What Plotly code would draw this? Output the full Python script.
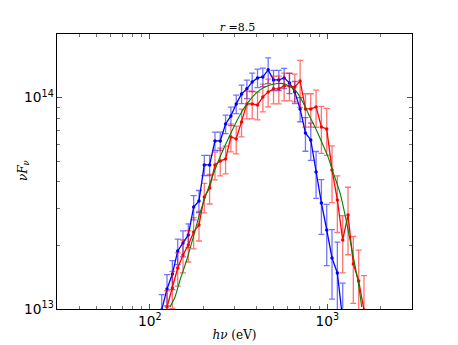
import plotly.graph_objects as go

# Photon energies (eV) of the binned spectrum
energy = [116.7, 125.0, 134.0, 143.6, 153.8, 164.8, 176.6, 189.2, 202.7, 217.2,
          232.8, 249.4, 267.2, 286.3, 306.8, 328.7, 352.2, 377.4, 404.4, 433.3,
          464.3, 497.5, 533.1, 571.2, 612.0, 655.8, 702.7, 752.9, 806.7, 864.4,
          926.2, 992.4, 1063, 1139, 1221, 1308, 1401, 1502, 1609]

# Blue spectrum (nuF_nu in units of 1e13), energies index 0..34
blue_flux = [0.99, 1.244, 1.464, 1.882, 2.053, 2.240, 3.039, 3.245, 4.803, 4.803,
             6.240, 6.240, 7.508, 8.195, 9.338, 10.41, 11.00, 11.87, 12.40, 12.53,
             13.53, 12.13, 12.13, 12.40, 11.74, 10.64, 8.840, 6.807, 6.307, 4.450,
             3.175, 2.365, 1.743, 1.480, 0.887]
blue_err = [0.18, 0.21, 0.23, 0.26, 0.29, 0.29, 0.40, 0.39, 0.53, 0.53,
            0.62, 0.62, 0.75, 0.82, 0.93, 1.04, 1.10, 1.19, 1.24, 1.25,
            1.89, 1.33, 1.33, 1.36, 1.29, 1.28, 1.15, 1.23, 1.26, 1.11,
            0.92, 0.76, 0.63, 0.59, 0.44]

# Red spectrum, energies index 1..38
red_flux = [1.022, 1.257, 1.563, 1.801, 2.009, 2.314, 2.498, 3.388, 3.738, 4.803,
            5.017, 5.128, 6.517, 6.376, 7.674, 9.338, 9.338, 9.236, 10.08, 10.64,
            11.00, 11.00, 11.36, 11.36, 11.23, 12.00, 8.840, 8.840, 9.036, 7.265,
            7.109, 4.548, 3.281, 2.121, 2.786, 1.633, 1.357, 0.989]
red_err = [0.20, 0.25, 0.28, 0.32, 0.34, 0.39, 0.40, 0.54, 0.60, 0.72,
           0.75, 0.77, 0.98, 0.96, 1.15, 1.40, 1.40, 1.39, 1.51, 1.60,
           1.65, 1.65, 1.70, 1.70, 1.68, 3.00, 1.59, 1.59, 1.81, 1.82,
           1.78, 1.36, 0.98, 0.64, 0.98, 0.57, 0.54, 0.45]

# Green model curve
green_energy = [129.9, 138.7, 148.0, 161.4, 175.8, 191.7, 209.2, 227.9, 248.6, 282.9,
                322.1, 366.8, 417.7, 475.4, 527.6, 577.6, 657.6, 717.4, 778.4, 852.4,
                929.9, 1009, 1081, 1179, 1286, 1401, 1495, 1562]
green_flux = [1.022, 1.140, 1.371, 1.705, 2.192, 2.847, 3.540, 4.354, 5.241, 6.662,
              8.281, 9.752, 10.88, 11.48, 11.67, 11.61, 10.88, 9.752, 8.463, 7.265,
              6.170, 5.241, 4.402, 3.540, 2.553, 1.763, 1.327, 1.022]

UNIT = 1e13

fig = go.Figure()

fig.add_trace(go.Scatter(
    x=energy[:len(blue_flux)], y=[v * UNIT for v in blue_flux],
    mode="lines+markers",
    line=dict(color="#0000ff", width=1.3),
    marker=dict(color="#0000ff", size=3.5),
    error_y=dict(type="data", array=[e * UNIT for e in blue_err], symmetric=True,
                 color="rgba(0,0,255,0.55)", thickness=1.3, width=3),
    showlegend=False,
))

fig.add_trace(go.Scatter(
    x=energy[1:1 + len(red_flux)], y=[v * UNIT for v in red_flux],
    mode="lines+markers",
    line=dict(color="#ff0000", width=1.3),
    marker=dict(color="#ff0000", size=3.5),
    error_y=dict(type="data", array=[e * UNIT for e in red_err], symmetric=True,
                 color="rgba(255,0,0,0.55)", thickness=1.3, width=3),
    showlegend=False,
))

fig.add_trace(go.Scatter(
    x=green_energy, y=[v * UNIT for v in green_flux],
    mode="lines",
    line=dict(color="#008000", width=1.1, shape="spline", smoothing=0.6),
    showlegend=False,
))

axis_common = dict(
    type="log", automargin=False,
    showline=True, linecolor="black", linewidth=1, mirror="ticks",
    ticks="inside", ticklen=5, tickwidth=1, tickcolor="#555555",
    showgrid=False, zeroline=False,
    dtick=1, exponentformat="power", showexponent="all",
    minor=dict(ticks="inside", ticklen=3, tickwidth=1, tickcolor="#777777",
               dtick="D1", showgrid=False),
    tickfont=dict(family="DejaVu Sans", size=11, color="black"),
)

fig.update_xaxes(**axis_common, range=[1.4771, 3.4771],
                 title=dict(text="<i>hν</i> (eV)", font=dict(family="DejaVu Serif", size=12, color="black"),
                            standoff=2))
fig.update_yaxes(**axis_common, range=[13.0, 14.301])

# The page body adds an 8px offset, so the figure is sized 450x337 to fit the 458x345 window
fig.update_layout(
    width=450, height=337,
    margin=dict(l=49, r=46, t=26, b=36, autoexpand=False),
    paper_bgcolor="white", plot_bgcolor="white",
    title=dict(text="<i>r</i> =8.5", x=0.51, xanchor="center",
               yref="container", y=1 - 19 / 337, yanchor="middle",
               font=dict(family="DejaVu Serif", size=11, color="black")),
    annotations=[dict(
        text="<i>νF</i><sub><i>ν</i></sub>", textangle=-90,
        xref="paper", yref="paper", x=-0.093, y=0.505,
        xanchor="center", yanchor="middle", showarrow=False,
        font=dict(family="DejaVu Serif", size=12, color="black"),
    )],
)

fig.write_html("out.html")
